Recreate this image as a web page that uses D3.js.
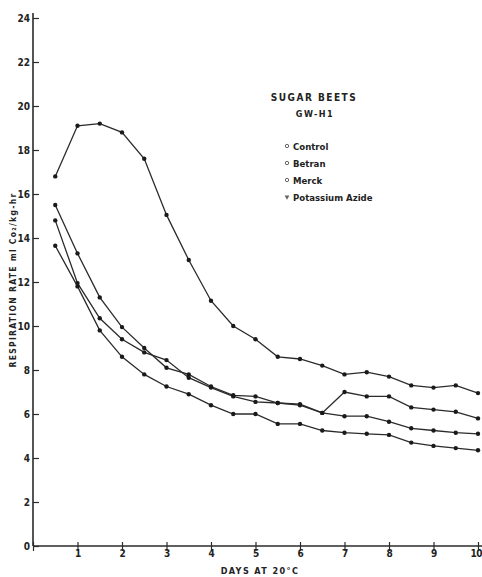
<!DOCTYPE html>
<meta charset="utf-8">
<html lang="en">
<head>
<script src="https://d3js.org/d3.v7.min.js"></script>
<style>
  body { margin: 0; background: #fff; }
  text { font-family: "DejaVu Sans Condensed", "Liberation Sans Narrow", sans-serif; font-weight: bold; fill: #222; }
</style>
</head>
<body>
<div id="chart"></div>
<script>
// days after harvest, every half day
var days = [0.5, 1, 1.5, 2, 2.5, 3, 3.5, 4, 4.5, 5, 5.5, 6, 6.5, 7, 7.5, 8, 8.5, 9, 9.5, 10];

// respiration rate, ml CO2/kg-hr
var control   = [16.8, 19.1, 19.2, 18.8, 17.6, 15.05, 13.0, 11.15, 10.0, 9.4, 8.6, 8.5, 8.2, 7.8, 7.9, 7.7, 7.3, 7.2, 7.3, 6.95];
var betran    = [15.5, 13.3, 11.3, 9.95, 9.0, 8.1, 7.8, 7.25, 6.85, 6.8, 6.5, 6.45, 6.05, 7.0, 6.8, 6.8, 6.3, 6.2, 6.1, 5.8];
var merck     = [14.8, 11.95, 10.35, 9.4, 8.8, 8.45, 7.65, 7.2, 6.8, 6.55, 6.5, 6.4, 6.05, 5.9, 5.9, 5.65, 5.35, 5.25, 5.15, 5.1];
var potassium = [13.65, 11.8, 9.8, 8.6, 7.8, 7.25, 6.9, 6.4, 6.0, 6.0, 5.55, 5.55, 5.25, 5.15, 5.1, 5.05, 4.7, 4.55, 4.45, 4.35];

var seriesNames = ["Control", "Betran", "Merck", "Potassium Azide"];
var series = [control, betran, merck, potassium];

var xTicks = [0, 1, 2, 3, 4, 5, 6, 7, 8, 9, 10];
var yTicks = [0, 2, 4, 6, 8, 10, 12, 14, 16, 18, 20, 22, 24];

var width = 482, height = 577;
var ink = "#2b2b2b";

var svg = d3.select("#chart").append("svg")
  .attr("width", width)
  .attr("height", height);

var x = d3.scaleLinear().domain([0, 10]).range([33, 478]);
var y = d3.scaleLinear().domain([0, 24]).range([546, 18]);

// axis lines (run a little past the last ticks, like the original)
svg.append("line")
  .attr("x1", x(0)).attr("x2", width)
  .attr("y1", y(0)).attr("y2", y(0))
  .attr("stroke", ink).attr("stroke-width", 1.6);
svg.append("line")
  .attr("x1", x(0)).attr("x2", x(0))
  .attr("y1", y(0)).attr("y2", y(24) - 5)
  .attr("stroke", ink).attr("stroke-width", 1.6);

// y axis
var yAxis = svg.append("g")
  .attr("transform", "translate(" + x(0) + ",0)")
  .call(d3.axisLeft(y).tickValues(yTicks).tickSizeInner(-6).tickSizeOuter(0).tickPadding(3));
yAxis.select(".domain").remove();
yAxis.selectAll("line").attr("stroke", ink).attr("stroke-width", 1.2);
yAxis.selectAll("text").attr("font-size", 10).attr("fill", ink)
  .style("font-family", "DejaVu Sans Condensed").style("font-weight", "bold");

// x axis
var xAxis = svg.append("g")
  .attr("transform", "translate(0," + y(0) + ")")
  .call(d3.axisBottom(x).tickValues(xTicks).tickSizeInner(5).tickSizeOuter(0).tickPadding(-1)
    .tickFormat(function (d) { return d === 0 ? "" : d; }));
xAxis.select(".domain").remove();
xAxis.selectAll("line").attr("y1", -4).attr("stroke", ink).attr("stroke-width", 1.2);
xAxis.selectAll("text").attr("font-size", 10).attr("fill", ink)
  .style("font-family", "DejaVu Sans Condensed").style("font-weight", "bold");
// the last label sits against the right edge, keep it inside
xAxis.selectAll(".tick").filter(function (d) { return d === 10; }).select("text")
  .attr("text-anchor", "end").attr("x", 3.5).attr("letter-spacing", -0.5);

// axis titles
svg.append("text")
  .attr("x", 260).attr("y", 574)
  .attr("text-anchor", "middle")
  .attr("font-size", 9)
  .attr("letter-spacing", 1.4)
  .text("DAYS AT 20°C");

svg.append("text")
  .attr("transform", "translate(16,280) rotate(-90)")
  .attr("text-anchor", "middle")
  .attr("font-size", 8.5)
  .attr("letter-spacing", 1.3)
  .text("RESPIRATION RATE  ml Co\u2082/kg-hr");

// curves
var line = d3.line()
  .x(function (d, i) { return x(days[i]); })
  .y(function (d) { return y(d); });

series.forEach(function (vals, s) {
  svg.append("path")
    .datum(vals)
    .attr("d", line)
    .attr("fill", "none")
    .attr("stroke", ink)
    .attr("stroke-width", 1.3);

  svg.selectAll(".pt" + s)
    .data(vals)
    .enter()
    .append("circle")
    .attr("class", "pt" + s)
    .attr("cx", function (d, i) { return x(days[i]); })
    .attr("cy", function (d) { return y(d); })
    .attr("r", 2.2)
    .attr("fill", "#1a1a1a");
});

// legend
svg.append("text")
  .attr("x", 314).attr("y", 101)
  .attr("text-anchor", "middle")
  .attr("font-size", 10)
  .attr("letter-spacing", 1.5)
  .text("SUGAR BEETS");
svg.append("text")
  .attr("x", 315).attr("y", 117)
  .attr("text-anchor", "middle")
  .attr("font-size", 9)
  .attr("letter-spacing", 1.5)
  .text("GW-H1");

var legend = svg.append("g");
seriesNames.forEach(function (name, i) {
  var ly = 146 + 17 * i;
  if (i === 3) {
    legend.append("path")
      .attr("d", d3.symbol().type(d3.symbolTriangle).size(10))
      .attr("transform", "translate(287," + ly + ") rotate(180)")
      .attr("fill", "#666");
  } else {
    legend.append("circle")
      .attr("cx", 287).attr("cy", ly)
      .attr("r", 1.7)
      .attr("fill", "none")
      .attr("stroke", "#666")
      .attr("stroke-width", 1);
  }
  legend.append("text")
    .attr("x", 293).attr("y", ly + 3.5)
    .attr("font-size", 9.5)
    .text(name);
});
</script>
</body>
</html>
